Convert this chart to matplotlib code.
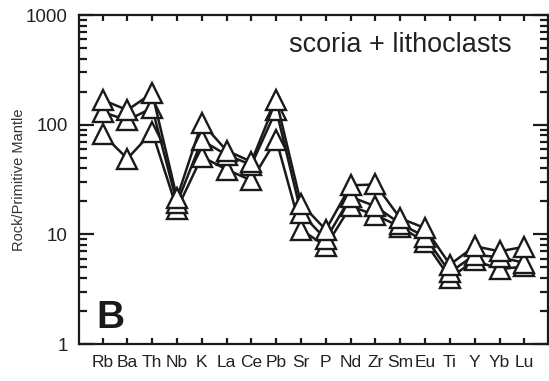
import matplotlib
matplotlib.use("Agg")
import matplotlib.pyplot as plt
from matplotlib.ticker import LogLocator, NullFormatter, FixedLocator

plt.rcParams['font.family'] = ['Liberation Sans', 'DejaVu Sans']

elements = ["Rb", "Ba", "Th", "Nb", "K", "La", "Ce", "Pb", "Sr", "P",
            "Nd", "Zr", "Sm", "Eu", "Ti", "Y", "Yb", "Lu"]

series_high = [168, 136, 194, 21.5, 104, 58, 46, 168, 19, 11,
               28, 28.5, 14, 11.4, 5.3, 7.8, 7.0, 7.7]
series_mid = [130, 110, 142, 19.3, 72, 53, 43, 136, 15.6, 9.0,
              22, 18, 12.5, 9.5, 4.5, 6.5, 6.2, 5.5]
series_low = [82, 49, 86, 17, 51, 39, 31, 73, 11, 7.8,
              18, 15, 11.7, 8.5, 4.0, 5.8, 4.8, 5.1]

y_ticks = [1, 10, 100, 1000]
y_ticklabels = ["1", "10", "100", "1000"]

fig = plt.figure(figsize=(5.49, 3.81), dpi=100)
ax = fig.add_axes([0.1439, 0.0971, 0.8541, 0.8635])

x = list(range(1, len(elements) + 1))
for s in (series_low, series_mid, series_high):
    ax.plot(x, s, color='#1a1a1a', lw=1.8, marker='^', ms=14,
            mfc='white', mec='#1a1a1a', mew=1.7)

ax.set_yscale('log')
ax.set_ylim(1, 1000)
ax.set_xlim(0.05, 18.95)
ax.yaxis.set_major_locator(FixedLocator(y_ticks))
ax.set_yticklabels(y_ticklabels)
ax.yaxis.set_minor_locator(LogLocator(base=10, subs=range(2, 10)))
ax.yaxis.set_minor_formatter(NullFormatter())
ax.set_xticks(x)
ax.set_xticklabels(elements)

for sp in ax.spines.values():
    sp.set_linewidth(1.6)
    sp.set_color('#1a1a1a')

ax.tick_params(axis='y', which='major', direction='in', length=11, width=1.6,
               left=True, right=True, labelsize=13.5, pad=8, color='#1a1a1a',
               labelcolor='#222222')
ax.tick_params(axis='y', which='minor', direction='in', length=5.5, width=1.6,
               left=True, right=True, color='#1a1a1a')
ax.tick_params(axis='x', which='major', direction='in', length=4.5, width=1.6,
               bottom=True, top=True, labelsize=12.5, pad=8, color='#1a1a1a',
               labelcolor='#222222')

ax.set_ylabel("Rock/Primitive Mantle", fontsize=10.5, labelpad=0, color='#333333')

ax.text(0.923, 0.909, "scoria + lithoclasts", transform=ax.transAxes,
        ha='right', va='center', fontsize=19.5, color='#222222')
ax.text(0.036, 0.049, "B", transform=ax.transAxes, ha='left', va='baseline',
        fontsize=28, fontweight='bold', color='#1a1a1a')

fig.savefig("out.png", dpi=100)
